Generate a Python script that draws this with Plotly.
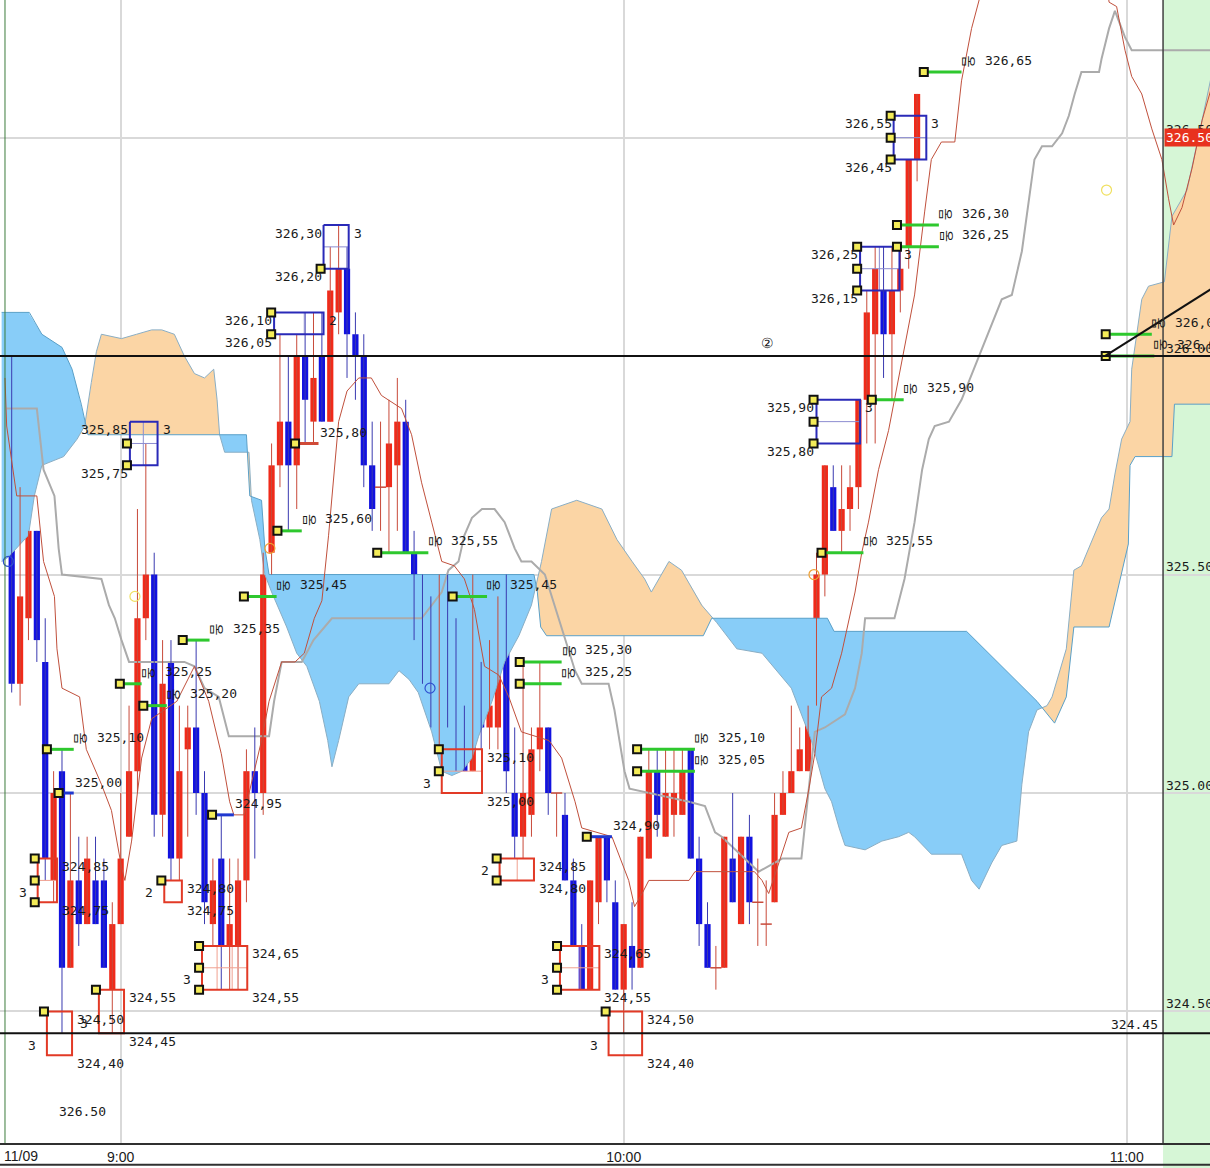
import numpy as np
import plotly.graph_objects as go

# ---------------- data (x = minutes relative to 09:00) ----------------
candle_minutes = list(range(-13, 96))
opens = [325.95, 325.25, 325.40, 325.60, 325.30, 324.80, 325.05, 324.60, 324.80, 324.70,
         324.80, 324.80, 324.55, 324.70, 324.90, 325.05, 325.40, 325.50, 324.95, 325.30,
         324.85, 325.10, 325.15, 325.00, 324.70, 324.85, 324.65, 324.65, 324.80, 325.05,
         325.00, 325.55, 325.75, 325.85, 325.75, 326.00, 325.85, 326.00, 325.85, 326.10,
         326.20, 326.05, 326.00, 325.75, 325.70, 325.70, 325.75, 325.85, 325.55, 325.40,
         325.35, 325.20, 325.40, 325.25, 325.10, 325.05, 325.25, 325.15, 325.15, 325.40,
         325.00, 324.90, 324.95, 325.10, 325.15, 325.00, 324.95, 324.80, 324.65, 324.55,
         324.75, 324.90, 324.75, 324.55, 324.65, 324.60, 324.85, 325.05, 324.90, 324.95,
         324.95, 325.10, 324.85, 324.70, 324.60, 324.60, 324.85, 324.70, 324.90, 324.75,
         324.70, 324.75, 324.95, 325.00, 325.05, 325.05, 325.20, 325.50, 325.70, 325.60,
         325.65, 325.70, 325.90, 326.05, 326.15, 326.05, 326.15, 326.25, 326.45]
highs = [326.00, 325.70, 325.60, 325.60, 325.40, 325.05, 325.10, 325.00, 324.90, 324.90,
         324.90, 324.85, 324.75, 325.00, 325.20, 325.65, 325.80, 325.55, 325.35, 325.35,
         325.20, 325.20, 325.35, 325.05, 324.85, 324.95, 324.85, 324.85, 325.10, 325.15,
         325.55, 325.80, 326.05, 326.00, 326.05, 326.10, 326.10, 326.10, 326.25, 326.30,
         326.25, 326.10, 326.05, 325.85, 325.85, 325.90, 325.95, 325.90, 325.60, 325.50,
         325.45, 325.50, 325.50, 325.40, 325.20, 325.50, 325.30, 325.35, 325.45, 325.50,
         325.15, 325.30, 325.15, 325.30, 325.15, 325.00, 325.00, 324.85, 324.70, 324.80,
         324.90, 324.90, 324.80, 324.70, 324.75, 324.90, 325.10, 325.10, 325.10, 325.10,
         325.10, 325.10, 324.90, 324.75, 324.65, 324.90, 325.00, 324.90, 324.95, 324.85,
         324.80, 325.00, 325.05, 325.20, 325.15, 325.20, 325.55, 325.75, 325.75, 325.75,
         325.75, 325.90, 326.15, 326.25, 326.25, 326.25, 326.25, 326.45, 326.60]
lows = [325.23, 325.20, 325.35, 325.30, 324.80, 324.75, 324.45, 324.60, 324.65, 324.70,
        324.70, 324.60, 324.45, 324.70, 324.90, 325.00, 325.35, 324.90, 324.90, 324.80,
        324.80, 324.90, 324.95, 324.70, 324.65, 324.55, 324.55, 324.55, 324.75, 324.85,
        324.95, 325.50, 325.70, 325.60, 325.65, 325.80, 325.80, 325.85, 325.85, 326.05,
        325.95, 325.90, 325.70, 325.60, 325.60, 325.55, 325.60, 325.55, 325.35, 325.25,
        325.15, 325.10, 325.15, 325.05, 325.05, 325.05, 325.10, 325.10, 325.10, 325.00,
        324.85, 324.85, 324.90, 325.05, 324.95, 324.90, 324.80, 324.65, 324.55, 324.55,
        324.70, 324.75, 324.55, 324.45, 324.55, 324.60, 324.85, 324.90, 324.90, 324.90,
        324.95, 324.85, 324.65, 324.60, 324.55, 324.60, 324.75, 324.70, 324.70, 324.65,
        324.65, 324.75, 324.95, 325.00, 325.05, 325.05, 325.20, 325.45, 325.60, 325.55,
        325.60, 325.65, 325.80, 325.80, 325.95, 325.90, 326.10, 326.20, 326.40]
closes = [325.25, 325.45, 325.60, 325.35, 324.85, 325.00, 324.60, 324.80, 324.70, 324.85,
          324.70, 324.60, 324.70, 324.85, 325.05, 325.40, 325.50, 324.95, 325.25, 324.85,
          325.05, 325.15, 325.00, 324.75, 324.80, 324.65, 324.70, 324.80, 325.05, 325.00,
          325.50, 325.75, 325.85, 325.75, 326.00, 325.90, 325.95, 325.85, 326.15, 326.20,
          326.05, 326.00, 325.75, 325.65, 325.70, 325.80, 325.85, 325.55, 325.45, 325.30,
          325.20, 325.45, 325.25, 325.10, 325.05, 325.25, 325.15, 325.20, 325.35, 325.05,
          324.90, 325.00, 325.10, 325.15, 325.00, 325.00, 324.80, 324.65, 324.55, 324.80,
          324.90, 324.80, 324.55, 324.70, 324.60, 324.90, 325.05, 324.95, 325.00, 325.00,
          325.05, 324.85, 324.70, 324.60, 324.60, 324.90, 324.75, 324.90, 324.75, 324.75,
          324.70, 324.95, 325.00, 325.05, 325.10, 325.20, 325.50, 325.75, 325.60, 325.65,
          325.70, 325.90, 326.10, 326.20, 326.05, 326.15, 326.20, 326.45, 326.60]

# Ichimoku leading spans (breakpoints)
span_a_x = [-14.2, -13.4, -11.0, -10.3, -9.4, -6.8, -5.2, -4.3, -3.5, -2.9, -2.3, 0.1, 1.9, 3.7, 4.9, 6.4,
            7.6, 8.8, 10.0, 11.1, 11.5, 11.8, 12.4, 15.3, 15.6, 16.6, 17.2, 18.0, 19.8, 21.0, 22.2, 23.7,
            24.7, 25.2, 26.0, 27.2, 28.4, 32.0, 33.2, 34.4, 35.5, 37.1, 38.3, 39.5, 40.7, 41.9, 42.7,
            44.3, 45.8, 47.5, 49.0, 50.2, 51.4, 54.4, 57.4, 59.2, 61.0, 62.5, 63.3, 64.2, 65.4, 66.9,
            68.1, 69.3, 71.1, 73.5, 76.5, 80.0, 82.4, 84.0, 84.8, 85.7, 86.4, 88.8, 90.8, 92.8, 94.0,
            94.7, 96.7, 100.3, 101.5, 102.4, 103.9, 105.1, 106.9, 107.5, 108.3, 109.3, 110.5, 111.1,
            112.8, 113.7, 114.6, 117.0, 117.9, 118.6, 119.4, 120.4, 120.6, 121.8, 122.6, 124.5, 125.4,
            127.2, 129.0, 130.2]
span_a_y = [325.53, 325.54, 325.59, 325.68, 325.75, 325.77, 325.81, 325.84, 325.94, 326.01, 326.05,
            326.04, 326.05, 326.06, 326.06, 326.05, 326.00, 325.96, 325.95, 325.97, 325.90, 325.82,
            325.78, 325.78, 325.67, 325.58, 325.50, 325.46, 325.38, 325.32, 325.29, 325.21, 325.12,
            325.06, 325.12, 325.22, 325.25, 325.25, 325.28, 325.26, 325.23, 325.14, 325.05, 325.04,
            325.05, 325.08, 325.13, 325.21, 325.30, 325.36, 325.43, 325.53, 325.65, 325.67, 325.65,
            325.58, 325.53, 325.49, 325.46, 325.49, 325.53, 325.51, 325.47, 325.43, 325.39, 325.33,
            325.32, 325.24, 325.12, 325.01, 324.98, 324.92, 324.88, 324.87, 324.89, 324.90, 324.91,
            324.90, 324.86, 324.86, 324.80, 324.78, 324.84, 324.88, 324.89, 325.02, 325.14, 325.19,
            325.20, 325.22, 325.33, 325.51, 325.52, 325.63, 325.65, 325.73, 325.81, 325.85, 325.97,
            326.13, 326.16, 326.17, 326.32, 326.38, 326.54, 326.65]
span_b_x = [-14.2, -10.9, -9.4, -7.0, -5.8, -4.7, -3.9, 15.0, 15.4, 16.8, 17.2, 17.7, 49.3, 49.7, 50.1,
            50.8, 69.5, 70.5, 84.3, 85.1, 100.9, 105.1, 109.3, 111.4, 112.8, 113.7, 117.9, 120.2,
            120.4, 121.0, 125.4, 125.7, 130.2]
span_b_y = [326.10, 326.10, 326.05, 326.02, 325.97, 325.89, 325.82, 325.82, 325.68, 325.67, 325.56,
            325.50, 325.50, 325.46, 325.38, 325.36, 325.36, 325.40, 325.40, 325.37, 325.37, 325.29,
            325.21, 325.16, 325.22, 325.38, 325.38, 325.57, 325.75, 325.77, 325.77, 325.89, 325.89]

# conversion line (thin red) and base line (gray)
conv_x = [-13.8, -13.6, -12.4, -10.0, -9.2, -7.9, -7.6, -7.0, -4.9, -4.1, -2.3, -1.1, 0.1, 0.5, 1.3, 2.5,
          3.7, 6.7, 8.8, 10.5, 12.0, 13.0, 13.5, 14.7, 16.8, 17.7, 19.2, 20.8, 21.9, 23.1, 24.0, 24.8,
          26.0, 27.0, 28.4, 29.9, 31.1, 33.5, 34.7, 35.9, 37.1, 38.3, 39.8, 41.0, 42.2, 43.4, 45.1,
          46.3, 47.8, 51.1, 52.6, 54.2, 55.0, 58.6, 60.6, 61.3, 62.2, 63.0, 67.8, 68.5, 71.7, 75.6,
          76.5, 77.3, 78.0, 79.7, 81.2, 82.1, 82.8, 83.6, 84.8, 86.0, 87.6, 88.4, 89.2, 90.4, 91.6,
          93.2, 94.7, 95.9, 96.7, 97.9, 99.5, 100.3, 101.5, 103.3, 105.1, 117.0, 117.9, 118.8, 119.8,
          120.6, 121.8, 123.0, 124.2, 125.0, 125.6, 126.6, 127.8, 129.0, 130.2]
conv_y = [325.95, 325.84, 325.68, 325.68, 325.53, 325.45, 325.33, 325.24, 325.22, 325.10, 325.02,
          324.96, 324.83, 324.80, 324.89, 325.08, 325.17, 325.21, 325.29, 325.21, 325.09, 324.98,
          324.95, 324.95, 325.12, 325.21, 325.30, 325.30, 325.32, 325.40, 325.44, 325.59, 325.85,
          325.92, 325.95, 325.95, 325.91, 325.88, 325.82, 325.71, 325.62, 325.53, 325.52, 325.49,
          325.42, 325.29, 325.27, 325.22, 325.14, 325.12, 325.08, 324.98, 324.92, 324.90, 324.80,
          324.74, 324.77, 324.80, 324.80, 324.82, 324.82, 324.82, 324.80, 324.77, 324.81, 324.91,
          324.92, 325.01, 325.09, 325.22, 325.24, 325.32, 325.46, 325.55, 325.62, 325.74, 325.83,
          325.99, 326.14, 326.33, 326.45, 326.49, 326.49, 326.63, 326.75, 326.88, 326.95, 326.95,
          326.81, 326.80, 326.70, 326.64, 326.60, 326.52, 326.45, 326.36, 326.30, 326.34, 326.43,
          326.54, 326.62]
base_x = [-13.6, -10.0, -9.2, -7.9, -7.4, -7.0, -2.3, -1.4, -0.7, 0.1, 1.0, 7.6, 8.8, 10.0, 11.7, 12.9,
          17.7, 18.3, 19.2, 21.6, 23.0, 25.2, 35.9, 38.3, 39.1, 40.3, 41.0, 41.9, 43.1, 44.6, 45.8,
          47.0, 47.8, 49.0, 50.6, 52.6, 54.2, 55.0, 58.2, 58.9, 60.1, 60.7, 67.8, 69.7, 70.9, 71.7,
          76.1, 78.9, 81.2, 82.8, 84.0, 86.4, 87.6, 88.4, 88.8, 92.3, 93.5, 94.7, 95.6, 96.4, 97.1,
          98.8, 100.3, 105.1, 106.3, 107.5, 109.0, 109.9, 111.1, 112.3, 113.1, 113.8, 114.6, 116.7,
          117.0, 117.9, 118.6, 119.8, 120.6, 130.2]
base_y = [325.88, 325.88, 325.74, 325.68, 325.56, 325.50, 325.49, 325.43, 325.40, 325.35, 325.30,
          325.30, 325.29, 325.24, 325.22, 325.13, 325.13, 325.21, 325.30, 325.30, 325.35, 325.40,
          325.40, 325.46, 325.51, 325.53, 325.59, 325.63, 325.65, 325.65, 325.62, 325.56, 325.53,
          325.53, 325.50, 325.38, 325.28, 325.25, 325.25, 325.19, 325.05, 325.01, 324.98, 324.97,
          324.91, 324.90, 324.82, 324.85, 324.85, 325.14, 325.15, 325.18, 325.24, 325.32, 325.40,
          325.40, 325.49, 325.62, 325.74, 325.81, 325.84, 325.85, 325.90, 326.13, 326.14, 326.24,
          326.45, 326.48, 326.48, 326.51, 326.55, 326.60, 326.65, 326.65, 326.68, 326.75, 326.79,
          326.73, 326.70, 326.70]

# high / low cluster boxes: (x0, x1, top, bottom, count, marker prices, inner h, inner v list)
hi_boxes = [(1.1, 4.4, 325.85, 325.75, "3", [325.80, 325.75], 325.80, [2.7]),
            (24.2, 27.2, 326.30, 326.20, "3", [326.20], 326.25, []),
            (18.3, 24.2, 326.10, 326.05, "2", [326.10, 326.05], None, [21.9]),
            (83.0, 88.2, 325.90, 325.80, "3", [325.90, 325.85, 325.80], 325.85, []),
            (88.2, 92.9, 326.25, 326.15, "3", [326.25, 326.20, 326.15], 326.20, [90.5]),
            (92.2, 96.1, 326.55, 326.45, "3", [326.55, 326.50, 326.45], 326.50, [])]
lo_boxes = [(-9.9, -7.6, 324.85, 324.75, "3", [324.85, 324.80, 324.75], 324.80, []),
            (-8.8, -5.8, 324.50, 324.40, "3", [324.50], 324.45, []),
            (-2.6, 0.4, 324.55, 324.45, "3", [324.55], None, []),
            (5.2, 7.3, 324.80, 324.75, "2", [324.80], None, []),
            (9.7, 15.1, 324.65, 324.55, "3", [324.65, 324.60, 324.55], 324.60, [11.5, 13.3]),
            (38.3, 43.1, 325.10, 325.00, "3", [325.10, 325.05], 325.05, []),
            (45.2, 49.3, 324.85, 324.80, "2", [324.85, 324.80], None, [47.3]),
            (52.4, 57.1, 324.65, 324.55, "3", [324.65, 324.60, 324.55], 324.60, [54.8]),
            (58.2, 62.2, 324.50, 324.40, "3", [324.50], 324.45, [])]

# level marks: (x start, x end, price, kind)   kind: g = green with tag, b = blue, r = red
level_marks = [(-8.8, -5.6, 325.10, "g"), (-7.4, -5.6, 325.00, "b"), (-0.1, 2.5, 325.25, "g"),
               (2.7, 5.5, 325.20, "g"), (7.4, 10.6, 325.35, "g"), (10.9, 13.5, 324.95, "b"),
               (14.7, 18.6, 325.45, "g"), (18.7, 21.6, 325.60, "g"), (20.8, 23.6, 325.80, "r"),
               (30.6, 36.7, 325.55, "g"), (39.6, 43.7, 325.45, "g"), (47.6, 52.6, 325.30, "g"),
               (47.6, 52.6, 325.25, "g"), (61.6, 68.5, 325.10, "g"), (61.6, 68.5, 325.05, "g"),
               (55.6, 58.6, 324.90, "b"), (83.6, 88.6, 325.55, "g"), (89.6, 93.4, 325.90, "g"),
               (92.6, 97.6, 326.30, "g"), (92.6, 97.6, 326.25, "g"), (95.8, 100.3, 326.65, "g"),
               (117.5, 123.0, 326.05, "g"), (117.5, 123.3, 326.00, "g")]

signal_x = [-13.4, 1.7, 17.8, 36.9, 82.7, 117.6]
signal_y = [325.53, 325.45, 325.56, 325.24, 325.50, 326.38]
signal_c = ["#3050d0", "#f0e060", "#f0a030", "#3050d0", "#f0a030", "#f0e060"]

hlines = [326.00, 324.45]
trend_x = [117.4, 130.2]
trend_y = [326.00, 326.155]

tick_vals = [0, 60, 120]
tick_text = ["9:00", "10:00", "11:00"]
price_ticks = [324.50, 325.00, 325.50, 326.00, 326.50]
price_labels = ["324.50", "325.00", "325.50", "326.00", "326.50"]
last_price = 326.50

X_RANGE = [-14.395, 129.94]
Y_RANGE = [324.199, 326.815]
PANEL_X = 124.34

MONO = "DejaVu Sans Mono"
UP, UP_W = "#f02a1a", "#c84a3a"
DN, DN_W = "#1212e0", "#3a3ab0"
BLUE_CLOUD, ORANGE_CLOUD = "#88cdf8", "#fbd5a5"

fig = go.Figure()

# ---------------- cloud ----------------
xs = np.union1d(span_a_x, span_b_x)
a = np.interp(xs, span_a_x, span_a_y)
b = np.interp(xs, span_b_x, span_b_y)
X, A, B = [xs[0]], [a[0]], [b[0]]
for i in range(1, len(xs)):
    d0, d1 = a[i - 1] - b[i - 1], a[i] - b[i]
    if d0 * d1 < 0:
        f = d0 / (d0 - d1)
        xc = xs[i - 1] + f * (xs[i] - xs[i - 1])
        yc = a[i - 1] + f * (a[i] - a[i - 1])
        X.append(xc); A.append(yc); B.append(yc)
    X.append(xs[i]); A.append(a[i]); B.append(b[i])
runs, cur, cur_s = [], [], 0
for i in range(len(X)):
    s = np.sign(A[i] - B[i])
    if s != 0 and cur_s != 0 and s != cur_s:
        runs.append((cur_s, cur)); cur = [i - 1]; cur_s = s
    elif s != 0:
        cur_s = s
    cur.append(i)
runs.append((cur_s, cur))
for s, idx in runs:
    px = [X[j] for j in idx] + [X[j] for j in idx[::-1]]
    py = [A[j] for j in idx] + [B[j] for j in idx[::-1]]
    fig.add_trace(go.Scatter(x=px, y=py, mode="lines", fill="toself", line=dict(width=0),
                             fillcolor=ORANGE_CLOUD if s > 0 else BLUE_CLOUD, hoverinfo="skip"))
fig.add_trace(go.Scatter(x=span_a_x, y=span_a_y, mode="lines", line=dict(color="#8aaec4", width=1)))
fig.add_trace(go.Scatter(x=span_b_x, y=span_b_y, mode="lines", line=dict(color="#5aa0c8", width=1)))

# base line
fig.add_trace(go.Scatter(x=base_x, y=base_y, mode="lines", line=dict(color="#ababab", width=2)))

# ---------------- candles ----------------
wx_up, wy_up, wx_dn, wy_dn = [], [], [], []
ub_x, ub_b, ub_h, db_x, db_b, db_h, dj_x, dj_y = [], [], [], [], [], [], [], []
for t, o, h, l, c in zip(candle_minutes, opens, highs, lows, closes):
    if c > o:
        wx_up += [t, t, None]; wy_up += [l, h, None]
        ub_x.append(t); ub_b.append(o); ub_h.append(c - o)
    elif c < o:
        wx_dn += [t, t, None]; wy_dn += [l, h, None]
        db_x.append(t); db_b.append(c); db_h.append(o - c)
    else:
        wx_up += [t, t, None]; wy_up += [l, h, None]
        dj_x.append(t); dj_y.append(o)
fig.add_trace(go.Scatter(x=wx_up, y=wy_up, mode="lines", line=dict(color=UP_W, width=1)))
fig.add_trace(go.Scatter(x=wx_dn, y=wy_dn, mode="lines", line=dict(color=DN_W, width=1)))
fig.add_trace(go.Bar(x=ub_x, y=ub_h, base=ub_b, width=0.74, marker=dict(color=UP, line=dict(width=0))))
fig.add_trace(go.Bar(x=db_x, y=db_h, base=db_b, width=0.74, marker=dict(color=DN, line=dict(width=0))))
fig.add_trace(go.Scatter(x=dj_x, y=dj_y, mode="markers",
                         marker=dict(symbol="line-ew", size=8, line=dict(color=UP_W, width=1.5))))

# conversion line
fig.add_trace(go.Scatter(x=conv_x, y=conv_y, mode="lines", line=dict(color="#c0503c", width=1)))

# ---------------- annotations ----------------
anns = []
def text(x, y, s, xanchor="center", xshift=0, yshift=0, size=13, color="#1a1a1a", **kw):
    anns.append(dict(x=x, y=y, xref="x", yref="y", text=s, showarrow=False, xanchor=xanchor,
                     xshift=xshift, yshift=yshift, font=dict(family=MONO, size=size, color=color), **kw))

def fmt(p):
    return f"{p:.2f}".replace(".", ",")

mk_x, mk_y = [], []
for boxes, col, inner, hi in [(hi_boxes, "#2a2ab8", "#8c8cd0", True), (lo_boxes, "#e23a26", "#f0a090", False)]:
    bx, by, ix, iy = [], [], [], []
    for x0, x1, top, bot, cnt, mks, ih, ivs in boxes:
        bx += [x0, x1, x1, x0, x0, None]; by += [top, top, bot, bot, top, None]
        if ih is not None:
            ix += [x0, x1, None]; iy += [ih, ih, None]
        for v in ivs:
            ix += [v, v, None]; iy += [top, bot, None]
        for m in mks:
            mk_x.append(x0 - 0.35); mk_y.append(m)
        if hi:
            text(x0, top, fmt(top), xanchor="right", yshift=-8)
            text(x0, bot, fmt(bot), xanchor="right", yshift=-8)
            text(x1, top, cnt, xanchor="left", xshift=3, yshift=-8)
        else:
            text(x1, top, fmt(top), xanchor="left", xshift=3, yshift=-8)
            text(x1, bot, fmt(bot), xanchor="left", xshift=3, yshift=-8)
            text(x0, bot, cnt, xanchor="right", xshift=-9, yshift=10)
    fig.add_trace(go.Scatter(x=ix, y=iy, mode="lines", line=dict(color=inner, width=1)))
    fig.add_trace(go.Scatter(x=bx, y=by, mode="lines", line=dict(color=col, width=2)))

mark_col = {"g": "#2ec82e", "b": "#2038d0", "r": "#d04a38"}
for kind in "gbr":
    lx, ly = [], []
    for x0, x1, p, k in level_marks:
        if k == kind:
            lx += [x0, x1, None]; ly += [p, p, None]
    fig.add_trace(go.Scatter(x=lx, y=ly, mode="lines", line=dict(color=mark_col[kind], width=3)))
for x0, x1, p, k in level_marks:
    mk_x.append(x0); mk_y.append(p)
    if k == "g":
        anns.append(dict(x=x1, y=p, xref="x", yref="y", text="옴", showarrow=False, textangle=90,
                         xshift=8, yshift=11,
                         font=dict(family="Noto Sans CJK KR", size=13, color="#1a1a1a")))
        text(x1, p, fmt(p), xanchor="left", xshift=21, yshift=12)
    else:
        text(x1, p, fmt(p), xanchor="left", xshift=-1, yshift=11)

fig.add_trace(go.Scatter(x=mk_x, y=mk_y, mode="markers",
                         marker=dict(symbol="square", size=8, color="#f4ec58", line=dict(color="#111", width=2))))
fig.add_trace(go.Scatter(x=signal_x, y=signal_y, mode="markers",
                         marker=dict(symbol="circle-open", size=10, color=signal_c, line=dict(width=1.2))))

text(77.1, 326.03, "②", size=14)
text(-4.5, 324.27, "326.50", size=13)
text(PANEL_X, 324.45, "324.45", xanchor="right", xshift=-3, yshift=9)

for p, s in zip(price_ticks, price_labels):
    anns.append(dict(x=PANEL_X, y=p, xref="x", yref="y", text=s, showarrow=False, xanchor="left",
                     xshift=1, yshift=8, font=dict(family=MONO, size=13, color="#1a1a1a")))
anns.append(dict(x=PANEL_X, y=last_price, xref="x", yref="y", text=f"{last_price:.2f}", showarrow=False,
                 xanchor="left", xshift=1, bgcolor="#e8321e", borderpad=1,
                 font=dict(family=MONO, size=13, color="white")))
anns.append(dict(x=0, y=0, xref="paper", yref="paper", text="11/09", showarrow=False, xanchor="left",
                 yanchor="top", xshift=2, yshift=-3, font=dict(family="Liberation Sans", size=14, color="#1a1a1a")))

shapes = [
    dict(type="rect", xref="x", yref="paper", x0=PANEL_X, x1=X_RANGE[1] + 1, y0=-0.03, y1=1,
         fillcolor="#d6f6d6", line=dict(width=0), layer="between"),
    dict(type="line", xref="x", yref="paper", x0=PANEL_X, x1=PANEL_X, y0=0, y1=1,
         line=dict(color="#404040", width=1.5)),
    dict(type="line", xref="x", yref="paper", x0=-13.8, x1=-13.8, y0=0, y1=1,
         line=dict(color="#3c7c3c", width=1)),
    dict(type="line", xref="paper", yref="paper", x0=0, x1=1, y0=-0.019, y1=-0.019,
         line=dict(color="#303030", width=2)),
]
for hp in hlines:
    shapes.append(dict(type="line", xref="paper", yref="y", x0=0, x1=1, y0=hp, y1=hp,
                       line=dict(color="#111", width=2), layer="above"))
fig.add_trace(go.Scatter(x=trend_x, y=trend_y, mode="lines", line=dict(color="#111", width=2)))

fig.update_layout(
    width=1210, height=1168, margin=dict(l=0, r=0, t=0, b=25),
    paper_bgcolor="white", plot_bgcolor="white", showlegend=False, barmode="overlay",
    annotations=anns, shapes=shapes,
    xaxis=dict(range=X_RANGE, tickvals=tick_vals, ticktext=tick_text, showgrid=True,
               gridcolor="#d9d9d9", gridwidth=2, zeroline=False, showline=True, linecolor="#303030",
               linewidth=2, ticks="", tickfont=dict(family="Liberation Sans", size=14, color="#1a1a1a")),
    yaxis=dict(range=Y_RANGE, tickvals=price_ticks, showticklabels=False, showgrid=True,
               gridcolor="#d9d9d9", gridwidth=2, zeroline=False),
)
fig.write_html("out.html", config={"displayModeBar": False},
               post_script="document.body.style.margin='0px';document.body.style.overflow='hidden';")
